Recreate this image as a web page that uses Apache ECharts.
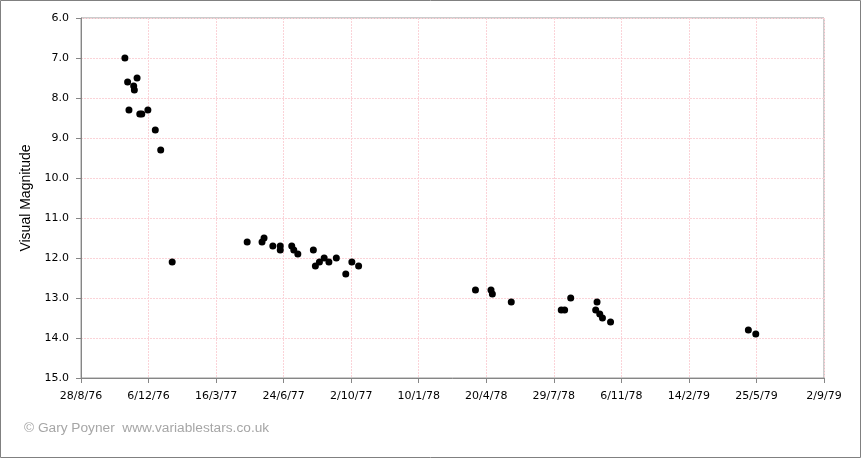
<!DOCTYPE html>
<html>
<head>
<meta charset="utf-8">
<script src="https://cdn.jsdelivr.net/npm/echarts@6/dist/echarts.min.js"></script>
<style>html,body{margin:0;padding:0;background:#fff}#c{width:862px;height:459px}</style>
</head>
<body>
<div id="c"></div>
<script>
// Observation dates and visual magnitudes
const obsDates = [
  '1976-11-01','1976-11-05','1976-11-07','1976-11-14','1976-11-15','1976-11-19',
  '1976-11-23','1976-11-26','1976-12-05','1976-12-16','1976-12-24','1977-01-10',
  '1977-05-01','1977-05-23','1977-05-26','1977-06-08','1977-06-19','1977-06-19',
  '1977-07-06','1977-07-09','1977-07-15','1977-08-07','1977-08-10','1977-08-16',
  '1977-08-23','1977-08-30','1977-09-10','1977-09-24','1977-10-03','1977-10-13',
  '1978-04-04','1978-04-27','1978-04-29','1978-05-27','1978-08-09','1978-08-14',
  '1978-08-23','1978-10-01','1978-09-29','1978-10-05','1978-10-09','1978-10-21',
  '1979-05-13','1979-05-24'
];
const magnitudes = [
  7.0, 7.6, 8.3, 7.7, 7.8, 7.5,
  8.4, 8.4, 8.3, 8.8, 9.3, 12.1,
  11.6, 11.6, 11.5, 11.7, 11.7, 11.8,
  11.7, 11.8, 11.9, 11.8, 12.2, 12.1,
  12.0, 12.1, 12.0, 12.4, 12.1, 12.2,
  12.8, 12.8, 12.9, 13.1, 13.3, 13.3,
  13.0, 13.1, 13.3, 13.4, 13.5, 13.6,
  13.8, 13.9
];
const axisStartDate = '1976-08-28';
const axisEndDays = 1100;
const tickStepDays = 100;
const yMin = 6, yMax = 15, yStep = 1;

const DAY = 86400000;
function parseUTC(s){const p=s.split('-').map(Number);return Date.UTC(p[0],p[1]-1,p[2]);}
const t0 = parseUTC(axisStartDate);
const data = obsDates.map((d,i)=>[(parseUTC(d)-t0)/DAY, magnitudes[i]]);
function fmtDay(v){const d=new Date(t0+Math.round(v)*DAY);return d.getUTCDate()+'/'+(d.getUTCMonth()+1)+'/'+String(d.getUTCFullYear()).slice(2);}

const chart = echarts.init(document.getElementById('c'));
const gridColor = '#fbd3d8';
const axisColor = '#999999';
const font = 'DejaVu Sans';
chart.setOption({
  animation:false,
  backgroundColor:'#fff',
  grid:{left:81,right:38,top:18,bottom:81,show:true,borderColor:axisColor,borderWidth:1,backgroundColor:'transparent'},
  xAxis:{type:'value',min:0,max:axisEndDays,interval:tickStepDays,
    axisLine:{show:true,lineStyle:{color:'#868686'}},
    axisTick:{show:true,inside:false,length:5,lineStyle:{color:'#868686'}},
    axisLabel:{formatter:fmtDay,color:'#000',fontFamily:font,fontSize:11,margin:13},
    splitLine:{show:true,lineStyle:{color:gridColor,type:[2,1]}}},
  yAxis:{type:'value',inverse:true,min:yMin,max:yMax,interval:yStep,
    name:'Visual Magnitude',nameLocation:'middle',nameGap:46,
    nameTextStyle:{color:'#000',fontFamily:'Liberation Sans',fontSize:14},
    axisLine:{show:true,lineStyle:{color:'#868686'}},
    axisTick:{show:true,inside:false,length:5,lineStyle:{color:'#868686'}},
    axisLabel:{formatter:v=>v.toFixed(1),color:'#000',fontFamily:font,fontSize:11,margin:12},
    splitLine:{show:true,lineStyle:{color:gridColor,type:[2,1]}}},
  graphic:[
    {type:'rect',shape:{x:0.5,y:0.5,width:860,height:457},style:{fill:'none',stroke:'#808080',lineWidth:1},silent:true},
    {type:'text',left:24,top:421,style:{text:'© Gary Poyner  www.variablestars.co.uk',fill:'#a6a6a6',font:'13.7px "Liberation Sans"'}}
  ],
  series:[{type:'scatter',data:data,symbol:'circle',symbolSize:7,itemStyle:{color:'#000',opacity:1}}]
});
</script>
</body>
</html>
